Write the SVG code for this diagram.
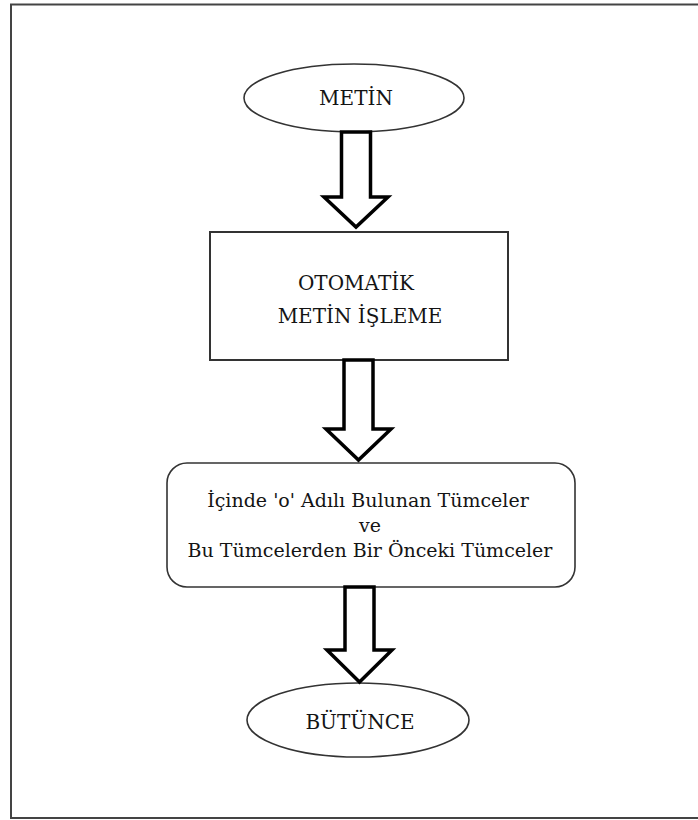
<svg xmlns="http://www.w3.org/2000/svg" width="698" height="820" viewBox="0 0 698 820">
  <style>
    .frame { fill: none; stroke: #444; stroke-width: 2; }
    .shape { fill: #fff; stroke: #333; stroke-width: 1.6; }
    .box { fill: #fff; stroke: #333; stroke-width: 2; }
    .arrow { fill: #fff; stroke: #000; stroke-width: 3.5; stroke-linejoin: miter; }
    .label { font-family: 'DejaVu Serif', serif; font-size: 19px; fill: #141414; text-anchor: middle; }
    .caps { font-size: 20px; }
  </style>
  <rect width="698" height="820" fill="#fff"/>
  <!-- outer frame, open on the right -->
  <path class="frame" d="M700 4.5 H11 V818 H700"/>

  <g id="metin">
    <ellipse class="shape" cx="354" cy="98" rx="110" ry="34"/>
    <text class="label caps" x="356" y="105">METİN</text>
  </g>

  <g id="otomatik-metin-isleme">
    <rect class="box" x="210" y="232" width="298" height="128"/>
    <text class="label caps" x="356" y="290">OTOMATİK</text>
    <text class="label caps" x="360" y="323">METİN İŞLEME</text>
  </g>

  <g id="tumceler">
    <rect class="shape" x="167" y="463" width="408" height="124" rx="20" ry="20"/>
    <text class="label" x="368" y="507">İçinde 'o' Adılı Bulunan Tümceler</text>
    <text class="label" x="370" y="532">ve</text>
    <text class="label" x="370" y="557">Bu Tümcelerden Bir Önceki Tümceler</text>
  </g>

  <g id="butunce">
    <ellipse class="shape" cx="358" cy="720" rx="111" ry="37"/>
    <text class="label caps" x="360" y="729">BÜTÜNCE</text>
  </g>

  <g id="connectors">
    <path class="arrow" d="M341.5 132 H370.5 V197 H388 L356 227 L324 197 H341.5 Z"/>
    <path class="arrow" d="M344 360 H373 V429 H391 L358.5 460 L326 429 H344 Z"/>
    <path class="arrow" d="M345 587 H374 V650 H392 L359.5 682 L327 650 H345 Z"/>
  </g>
</svg>
